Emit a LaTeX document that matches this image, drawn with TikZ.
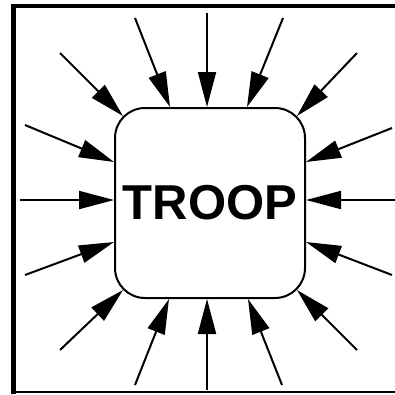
\documentclass[tikz,border=0pt]{standalone}
\usepackage{fontspec}
\setmainfont{Liberation Sans}
\usetikzlibrary{calc,arrows.meta}

\begin{document}
\begin{tikzpicture}[x=1pt,y=-1pt,
  feed/.style={line width=2pt,-{Triangle[length=35pt,width=18pt]}},
  unit/.style={draw,line width=2pt,rounded corners=30pt,minimum width=190pt,minimum height=190pt,
    inner sep=0pt,font=\fontsize{49}{49}\selectfont\bfseries}]
\useasboundingbox (0,0) rectangle (395,394);
\draw[line width=4pt] (11,6)--(395,6); \draw[line width=5pt] (13.5,4)--(13.5,393.5);
\draw[line width=2.5pt] (11,392)--(395,392);
\node[unit] (troop) at (210,203) {TROOP};
\foreach \n/\sx/\sy/\anc/\dx/\dy in {
  1/207/13/north/-3/0, 2/135/18/north/-40/0, 3/283/18/north/37/0,
  4/60/53/north west/9/9, 5/357/53/north east/-9/9,
  6/25/125/west/0/-41, 7/392/128/east/0/-41,
  8/20/200/west/0/-3, 9/395/200/east/0/-3,
  10/25/275/west/0/39, 11/392/275/east/0/39,
  12/60/350/south west/9/-9, 13/357/350/south east/-9/-9,
  14/135/385/south/-41/0, 15/207/390/south/-3/0, 16/282/385/south/38/0}
  {\coordinate (tail\n) at (\sx,\sy); \draw[feed] (tail\n) -- ($(troop.\anc)+(\dx,\dy)$);}
\end{tikzpicture}
\end{document}
